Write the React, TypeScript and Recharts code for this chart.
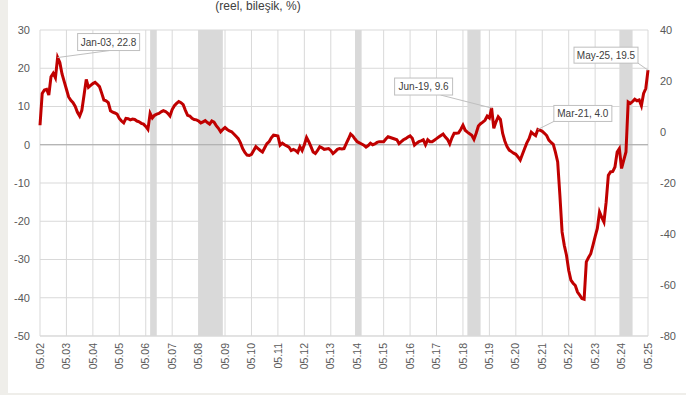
import { CartesianGrid, Line, LineChart, ReferenceArea, ReferenceDot, ReferenceLine, XAxis, YAxis } from "recharts";

// monthly series, first value is May 2002
const startYear = 2002;
const startMonth = 5;

const realRate = [
  5.1, 13.4, 14.3, 14.5, 13.0, 17.8, 18.7, 17.5, 22.8, 21.5, 18.5, 16.5,
  14.5, 12.5, 11.6, 11.0, 10.0, 8.5, 7.5, 9.0, 13.0, 17.1, 15.0, 15.5,
  16.0, 16.3, 15.8, 15.2, 13.5, 11.7, 11.5, 11.0, 8.9, 8.5, 8.3, 8.0,
  6.9, 6.2, 5.7, 6.9, 6.8, 6.5, 6.7, 6.6, 6.2, 6.0, 5.6, 5.4,
  4.8, 4.0, 8.2, 7.0, 7.7, 8.0, 8.2, 8.6, 8.9, 8.7, 8.2, 7.5,
  9.2, 10.2, 10.8, 11.3, 11.0, 10.5, 9.0, 7.7, 7.5, 6.9, 6.6, 6.5,
  6.2, 5.7, 6.0, 6.3, 5.8, 5.4, 6.2, 5.9, 5.0, 4.3, 3.4, 4.0,
  4.5, 4.0, 3.6, 3.4, 2.8, 2.2, 1.6, 0.5, -1.0, -2.0, -2.7, -2.8,
  -2.5, -1.5, -0.5, -1.0, -1.5, -1.9, -0.8, 0.3, 0.8, 1.8, 2.5, 2.4,
  2.3, -0.1, 0.4, 0.0, -0.3, -0.6, -1.5, -1.2, -1.5, -2.0, -0.5, -1.5,
  0.0, 1.9, 0.8, -0.5, -1.9, -2.3, -1.5, -0.5, -0.8, -1.2, -1.1, -1.0,
  -1.5, -2.3, -1.8, -1.2, -1.0, -1.1, -1.0, 0.3, 1.5, 2.8, 2.3, 1.5,
  0.8, 0.5, 0.2, -0.1, -0.6, -0.2, 0.4, 0.0, 0.2, 0.6, 0.8, 0.8,
  0.8, 1.5, 2.1, 1.9, 1.7, 1.5, 1.3, 0.3, 0.8, 1.3, 1.6, 2.0,
  2.3, 1.7, -0.1, 0.4, 0.8, 1.0, 1.3, 0.0, 1.3, 0.8, 0.8, 1.2,
  1.6, 2.0, 2.4, 2.8, 2.0, 1.4, 0.2, 1.8, 3.0, 3.0, 3.1, 4.0,
  5.1, 3.8, 3.3, 2.9, 2.5, 1.4, 3.0, 4.9, 5.5, 5.9, 6.4, 7.5,
  7.0, 9.6, 4.3, 6.0, 7.3, 6.6, 3.0, 1.0, -0.5, -1.4, -1.8, -2.2,
  -2.5, -3.2, -4.0, -2.5, -1.0, 0.5, 1.6, 3.3, 2.8, 2.4, 4.0, 3.8,
  3.5, 3.0, 2.4, 1.2, 0.6, 0.1, -2.0, -4.5, -13.2, -22.8, -26.3, -28.9,
  -32.8, -35.4, -36.2, -36.8, -38.5, -39.3, -40.2, -40.4, -30.6, -29.5, -28.5, -26.3,
  -24.0, -21.9, -17.6, -19.0, -20.2, -15.0, -8.0, -7.1, -7.0, -5.8, -1.9, -1.0,
  -6.2, -4.0, -1.9, 11.2, 10.8, 11.3, 11.9, 11.5, 11.7, 10.2, 13.4, 14.7,
  19.5
];

const xTickLabels = [
  "05.02", "05.03", "05.04", "05.05", "05.06", "05.07", "05.08", "05.09",
  "05.10", "05.11", "05.12", "05.13", "05.14", "05.15", "05.16", "05.17",
  "05.18", "05.19", "05.20", "05.21", "05.22", "05.23", "05.24", "05.25"
];
const leftTicks = [-50, -40, -30, -20, -10, 0, 10, 20, 30];
const rightTicks = [-80, -60, -40, -20, 0, 20, 40];

const shadedPeriods = [
  ["2006-07", "2006-10"],
  ["2008-05", "2009-04"],
  ["2014-04", "2014-07"],
  ["2018-07", "2019-01"],
  ["2024-04", "2024-10"]
];

const calloutDates = ["2003-01", "2019-06", "2021-03", "2025-05"];

const monthNames = ["Jan", "Feb", "Mar", "Apr", "May", "Jun", "Jul", "Aug", "Sep", "Oct", "Nov", "Dec"];

// box placement relative to the marked point
const calloutLayout = [
  { dx: 20, dy: -24, w: 62, h: 17, ax: 52, ay: -7 },
  { dx: -97, dy: -30, w: 58, h: 17, ax: -51, ay: -13 },
  { dx: 16, dy: -24, w: 58, h: 16, ax: 18, ay: -9 },
  { dx: -74, dy: -23, w: 64, h: 16, ax: -10, ay: -7 }
];

const font = "'Liberation Sans', Arial, sans-serif";

function toIndex(date: string) {
  const [y, m] = date.split("-").map(Number);
  return (y - startYear) * 12 + (m - startMonth);
}

function monthLabel(i: number) {
  const m = (startMonth - 1 + i) % 12;
  const y = startYear + Math.floor((startMonth - 1 + i) / 12);
  return `${monthNames[m]}-${String(y % 100).padStart(2, "0")}`;
}

const data = realRate.map((v, i) => ({ i, v }));

function XTick({ x, y, payload }: any) {
  const label = xTickLabels[Math.round(payload.value / 12)];
  return (
    <text
      x={x}
      y={y - 1}
      dy="0.35em"
      textAnchor="end"
      transform={`rotate(-90, ${x}, ${y - 1})`}
      fontSize={10.5}
      fill="#595959"
      fontFamily={font}
    >
      {label}
    </text>
  );
}

function Callout({ cx, cy, layout, text }: any) {
  const bx = cx + layout.dx;
  const by = cy + layout.dy;
  return (
    <g>
      <line x1={cx} y1={cy} x2={cx + layout.ax} y2={cy + layout.ay} stroke="#bfbfbf" strokeWidth={1} />
      <rect x={bx} y={by} width={layout.w} height={layout.h} fill="#ffffff" stroke="#bfbfbf" strokeWidth={1} />
      <text
        x={bx + layout.w / 2}
        y={by + layout.h / 2}
        dy="0.35em"
        textAnchor="middle"
        fontSize={10}
        fill="#404040"
        fontFamily={font}
      >
        {text}
      </text>
    </g>
  );
}

export default function App() {
  const lastIndex = realRate.length - 1;
  return (
    <div style={{ position: "absolute", left: 0, top: 0, width: 686, height: 395, background: "#ffffff", overflow: "hidden" }}>
      <div style={{ position: "absolute", left: 0, top: 0, width: 8, height: 395, background: "#efeeea" }} />
      <div style={{ position: "absolute", left: 0, top: 393, width: 686, height: 2, background: "#efeeea" }} />
      <div
        style={{
          position: "absolute",
          left: 0,
          width: 516,
          top: 0,
          textAlign: "center",
          fontFamily: font,
          fontSize: 12,
          lineHeight: "12px",
          color: "#404040"
        }}
      >
        (reel, bileşik, %)
      </div>
      <LineChart width={686} height={395} data={data} margin={{ top: 30, right: 0, bottom: 0, left: 0 }}>
        <CartesianGrid stroke="#d9d9d9" />
        {shadedPeriods.map(([a, b]) => (
          <ReferenceArea key={a} x1={toIndex(a)} x2={toIndex(b)} fill="#d9d9d9" fillOpacity={1} stroke="none" ifOverflow="hidden" />
        ))}
        <ReferenceLine y={0} stroke="#a6a6a6" strokeWidth={1} />
        <XAxis
          dataKey="i"
          type="number"
          domain={[0, lastIndex]}
          ticks={xTickLabels.map((_, k) => k * 12)}
          interval={0}
          tick={<XTick />}
          tickLine={false}
          axisLine={{ stroke: "#d9d9d9" }}
          height={59}
        />
        <YAxis
          type="number"
          domain={[-50, 30]}
          ticks={leftTicks}
          interval={0}
          width={40}
          axisLine={false}
          tickLine={false}
          tickMargin={4}
          tick={{ fill: "#595959", fontSize: 11, fontFamily: font }}
        />
        <YAxis
          yAxisId="right"
          orientation="right"
          type="number"
          domain={[-80, 40]}
          allowDataOverflow
          ticks={rightTicks}
          interval={0}
          width={38}
          axisLine={false}
          tickLine={false}
          tickMargin={6}
          tick={{ fill: "#595959", fontSize: 11, fontFamily: font }}
        />
        <Line
          dataKey="v"
          type="linear"
          stroke="#c00000"
          strokeWidth={3}
          dot={false}
          isAnimationActive={false}
        />
        {calloutDates.map((d, k) => {
          const idx = toIndex(d);
          const value = realRate[idx];
          return (
            <ReferenceDot
              key={d}
              x={idx}
              y={value}
              r={2}
              shape={(p: any) => (
                <Callout cx={p.cx} cy={p.cy} layout={calloutLayout[k]} text={`${monthLabel(idx)}, ${value.toFixed(1)}`} />
              )}
            />
          );
        })}
      </LineChart>
    </div>
  );
}
